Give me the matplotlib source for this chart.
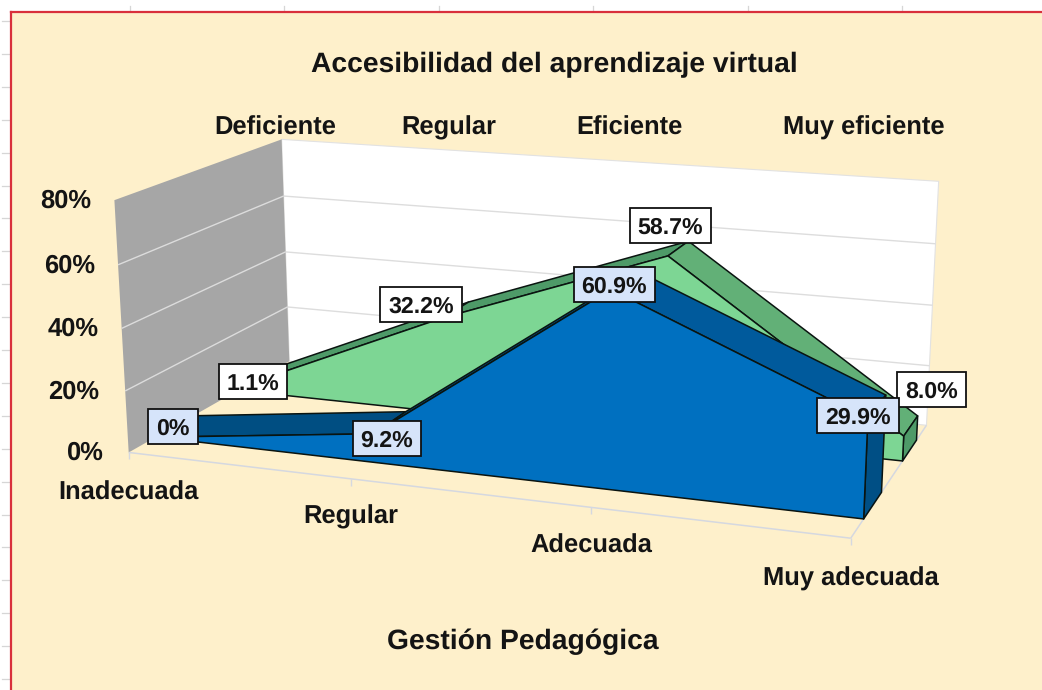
import numpy as np
import matplotlib
matplotlib.use("Agg")
import matplotlib.pyplot as plt
from matplotlib.patches import Polygon

# ---------- data ----------
title = "Accesibilidad del aprendizaje virtual"
x_title = "Gestión Pedagógica"
categories = ["Inadecuada", "Regular", "Adecuada", "Muy adecuada"]
depth_labels = ["Deficiente", "Regular", "Eficiente", "Muy eficiente"]
y_ticks = [0, 20, 40, 60, 80]
blue_values = [0.0, 9.2, 60.9, 29.9]
green_values = [1.1, 32.2, 58.7, 8.0]
blue_labels = ["0%", "9.2%", "60.9%", "29.9%"]
green_labels = ["1.1%", "32.2%", "58.7%", "8.0%"]

# ---------- chart frame: pixel positions of the 3D box corners (x, depth, height) ----------
box = {(0, 0, 0): (128, 452), (1, 0, 0): (850, 538), (1, 1, 0): (927, 425), (0, 1, 0): (290, 362),
       (0, 0, 1): (115, 199), (1, 0, 1): (863, 259), (1, 1, 1): (938, 180), (0, 1, 1): (281, 140)}
rows = []
for (X, Y, Z), (u, v) in box.items():
    rows.append([X, Y, Z, 1, 0, 0, 0, 0, -u*X, -u*Y, -u*Z, -u])
    rows.append([0, 0, 0, 0, X, Y, Z, 1, -v*X, -v*Y, -v*Z, -v])
P = np.linalg.svd(np.array(rows, float))[2][-1].reshape(3, 4)
YMAX = 80.0


def proj(cat, d, val):
    q = P @ np.array([cat / 3.0, d, val / YMAX, 1.0])
    return q[0] / q[2], q[1] / q[2]


W, H = 1042, 690
fig = plt.figure(figsize=(W / 100, H / 100), dpi=100, facecolor="white")
ax = fig.add_axes([0, 0, 1, 1])
ax.set_xlim(0, W)
ax.set_ylim(H, 0)
ax.axis("off")
plt.rcParams["font.family"] = ["Liberation Sans", "DejaVu Sans"]
plt.rcParams["text.hinting"] = "none"
TXT = "#141414"

# sheet background and chart area
for yy in np.arange(21, H, 32.9):
    ax.plot([2, 9], [yy, yy], color="#d6d6d6", lw=0.9, zorder=0)
for xx in np.arange(130, W, 154.4):
    ax.plot([xx, xx], [6, 10], color="#d6d6d6", lw=0.9, zorder=0)
ax.add_patch(plt.Rectangle((11, 12), W, H, fc="#FEF0CB", ec="none", zorder=0.5))
ax.plot([11, 11], [H, 12], color="#D9303C", lw=1.6, zorder=1)
ax.plot([11, W], [12, 12], color="#D9303C", lw=1.6, zorder=1)


def poly(points, fc, ec="none", lw=0.0, z=2):
    ax.add_patch(Polygon(points, closed=True, fc=fc, ec=ec, lw=lw, zorder=z, joinstyle="round"))


def line(a, b, color, lw, z=2):
    ax.plot([a[0], b[0]], [a[1], b[1]], color=color, lw=lw, zorder=z, solid_capstyle="butt")


# walls
poly([proj(0, 1, 0), proj(3, 1, 0), proj(3, 1, YMAX), proj(0, 1, YMAX)], "white", "#e2e2e2", 0.8)
poly([proj(0, 0, 0), proj(0, 1, 0), proj(0, 1, YMAX), proj(0, 0, YMAX)], "#A6A6A6")
for t in y_ticks[1:-1]:
    line(proj(0, 1, t), proj(3, 1, t), "#dddddd", 1.0, 2.1)
    line(proj(0, 0, t), proj(0, 1, t), "#dcdcdc", 1.0, 2.1)

# floor edges and category ticks
line(proj(0, 0, 0), proj(3, 0, 0), "#d5d8e0", 1.1, 2.1)
line(proj(3, 0, 0), proj(3, 1, 0), "#d5d8e0", 1.1, 2.1)
for c in range(4):
    a = proj(c, 0, 0)
    line(a, (a[0], a[1] + 7), "#d5d8e0", 1.0, 2.1)


def area(values, d0, d1, front, rise, fall, side, z):
    n = len(values)
    for i in range(n - 1):
        col = rise if values[i + 1] >= values[i] else fall
        poly([proj(i, d0, values[i]), proj(i + 1, d0, values[i + 1]),
              proj(i + 1, d1, values[i + 1]), proj(i, d1, values[i])], col, "#0a1410", 1.1, z)
    poly([proj(n - 1, d0, 0), proj(n - 1, d1, 0), proj(n - 1, d1, values[-1]), proj(n - 1, d0, values[-1])],
         side, "#0a1410", 1.1, z + 0.1)
    pts = [proj(0, d0, 0)] + [proj(i, d0, values[i]) for i in range(n)] + [proj(n - 1, d0, 0)]
    poly(pts, front, "#0a1410", 1.1, z + 0.2)


GREEN_D = (0.65, 0.85)
BLUE_D = (0.15, 0.37)
area(green_values, *GREEN_D, "#7DD694", "#4E9A68", "#62B077", "#4E9A68", 3)
area(blue_values, *BLUE_D, "#0070C0", "#004E82", "#005A9C", "#004F85", 4)

# data labels: nudges (px) from the projected point, as Excel moved them
renderer = fig.canvas.get_renderer()
green_nudge = [(0, 3), (-35, -5), (-8, -23), (21, -36)]
blue_nudge = [(-2, 0), (-3, 16), (-10, 4), (-19, 9)]


def labels(values, texts, ds, fc, nudges):
    dm = sum(ds) / 2
    for i, (v, s) in enumerate(zip(values, texts)):
        x, y = proj(i, dm, v)
        x += nudges[i][0]
        y += nudges[i][1]
        t = ax.text(x, y, s, ha="center", va="center_baseline", fontsize=16.7, fontweight="bold", color=TXT, zorder=6.1)
        w = t.get_window_extent(renderer).width + 16
        h = 35
        ax.add_patch(plt.Rectangle((x - w / 2, y - h / 2), w, h, fc=fc, ec="#101010", lw=1.3, zorder=6))


labels(green_values, green_labels, GREEN_D, "white", green_nudge)
labels(blue_values, blue_labels, BLUE_D, "#D6E4FA", blue_nudge)

# axis text
kw = dict(fontweight="bold", color=TXT, ha="center", va="center", zorder=7)
ax.text(554, 65, title, fontsize=20.35, **kw)
ax.text(523, 642, x_title, fontsize=20.3, **kw)
for s, xx in zip(depth_labels, [275, 449, 629, 864]):
    ax.text(xx, 128, s, fontsize=18.4, **kw)
for c, s in enumerate(categories):
    a = proj(c, 0, 0)
    ax.text(a[0], a[1] + [41, 38, 39, 41][c], s, fontsize=18.4, **kw)
for t, off in zip(y_ticks, [25, 26, 23, 23, 23]):
    a = proj(0, 0, t)
    ax.text(a[0] - off, a[1] + 1, f"{t}%", fontsize=18.4, fontweight="bold", color=TXT, ha="right", va="center", zorder=7)

fig.savefig("out.png", dpi=100)
